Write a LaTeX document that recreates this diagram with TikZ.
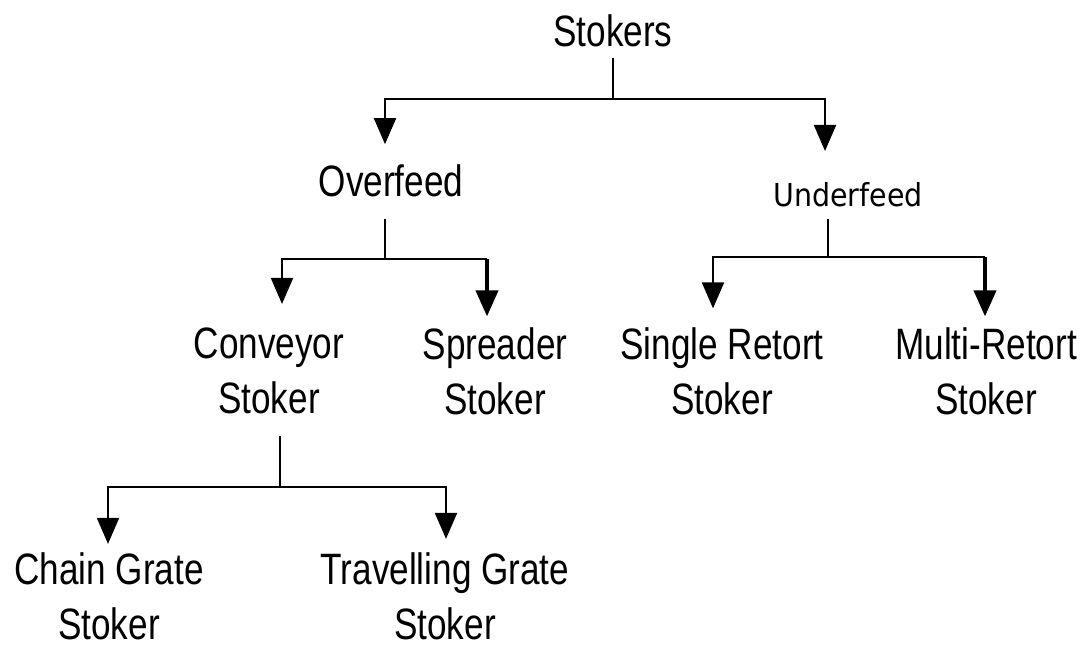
\documentclass[tikz,border=0pt]{standalone}
\usepackage{fontspec}
\setmainfont{Liberation Sans}[FakeStretch=0.8]
\newfontfamily\underfont{DejaVu Sans}[FakeStretch=0.9]
\usetikzlibrary{arrows.meta}

\begin{document}
\begin{tikzpicture}[> = {Triangle[width = 0.44cm, length = 0.52cm]}, x = 0.02cm, y = -0.02cm,
	line width = 0.04cm,
	txt/.style = {inner sep = 0, font = \fontsize{25pt}{31.3pt}\selectfont, align = center},
	thickdrop/.style = {->, line width = 0.08cm}]

	\useasboundingbox (0, 0) rectangle (1092, 646);

	% Names of the stoker types

	\node [txt, anchor = base] (stokers) at (613, 46) {Stokers};
	\node [txt, anchor = base] (overfeed) at (391, 196) {Overfeed};
	\node [txt, anchor = base, font = \underfont\fontsize{18pt}{22pt}\selectfont] (underfeed) at (848, 206) {Underfeed};

	\node [txt] (conveyor) at (269, 371) {Conveyor\\Stoker};
	\node [txt] (spreader) at (495, 371) {Spreader\\Stoker};
	\node [txt] (single) at (722, 371) {Single Retort\\Stoker};
	\node [txt] (multi) at (986, 371) {Multi-Retort\\Stoker};

	\node [txt] (chain) at (109, 596) {Chain Grate\\Stoker};
	\node [txt] (travelling) at (445, 596) {Travelling Grate\\Stoker};

	% Stokers into overfeed and underfeed

	\draw [shorten <= 0.22cm] (stokers.south) -- ++(0, 52) coordinate (stokers-j);
	\draw [->, shorten >= 0.38cm] (stokers-j) -| ([xshift = -0.12cm] overfeed.north);
	\draw [->, shorten >= 0.6cm] (stokers-j) -| ([xshift = -0.46cm] underfeed.north);

	% Overfeed into conveyor and spreader

	\draw [shorten <= 0.44cm] ([xshift = -0.12cm] overfeed.south) -- ++(0, 62) coordinate (overfeed-j);
	\draw [->, shorten >= 0.46cm] (overfeed-j) -| ([xshift = 0.26cm] conveyor.north);
	\coordinate (spreader-in) at ([xshift = -0.16cm] spreader.north);
	\draw (overfeed-j) -- (overfeed-j -| spreader-in);
	\draw [thickdrop, shorten >= 0.2cm] (overfeed-j -| spreader-in) -- (spreader-in);

	% Underfeed into single and multi retort

	\draw [shorten <= 0.24cm] ([xshift = -0.4cm] underfeed.south) -- ++(0, 50) coordinate (underfeed-j);
	\draw [->, shorten >= 0.36cm] (underfeed-j) -| ([xshift = -0.18cm] single.north);
	\coordinate (multi-in) at ([xshift = -0.02cm] multi.north);
	\draw (underfeed-j) -- (underfeed-j -| multi-in);
	\draw [thickdrop, shorten >= 0.2cm] (underfeed-j -| multi-in) -- (multi-in);

	% Conveyor into chain and travelling grate

	\draw [shorten <= 0.42cm] ([xshift = 0.22cm] conveyor.south) -- ++(0, 72) coordinate (conveyor-j);
	\draw [->, shorten >= 0.15cm] (conveyor-j) -| ([xshift = -0.02cm] chain.north);
	\draw [->, shorten >= 0.25cm] (conveyor-j) -| ([xshift = 0.02cm] travelling.north);

\end{tikzpicture}
\end{document}
